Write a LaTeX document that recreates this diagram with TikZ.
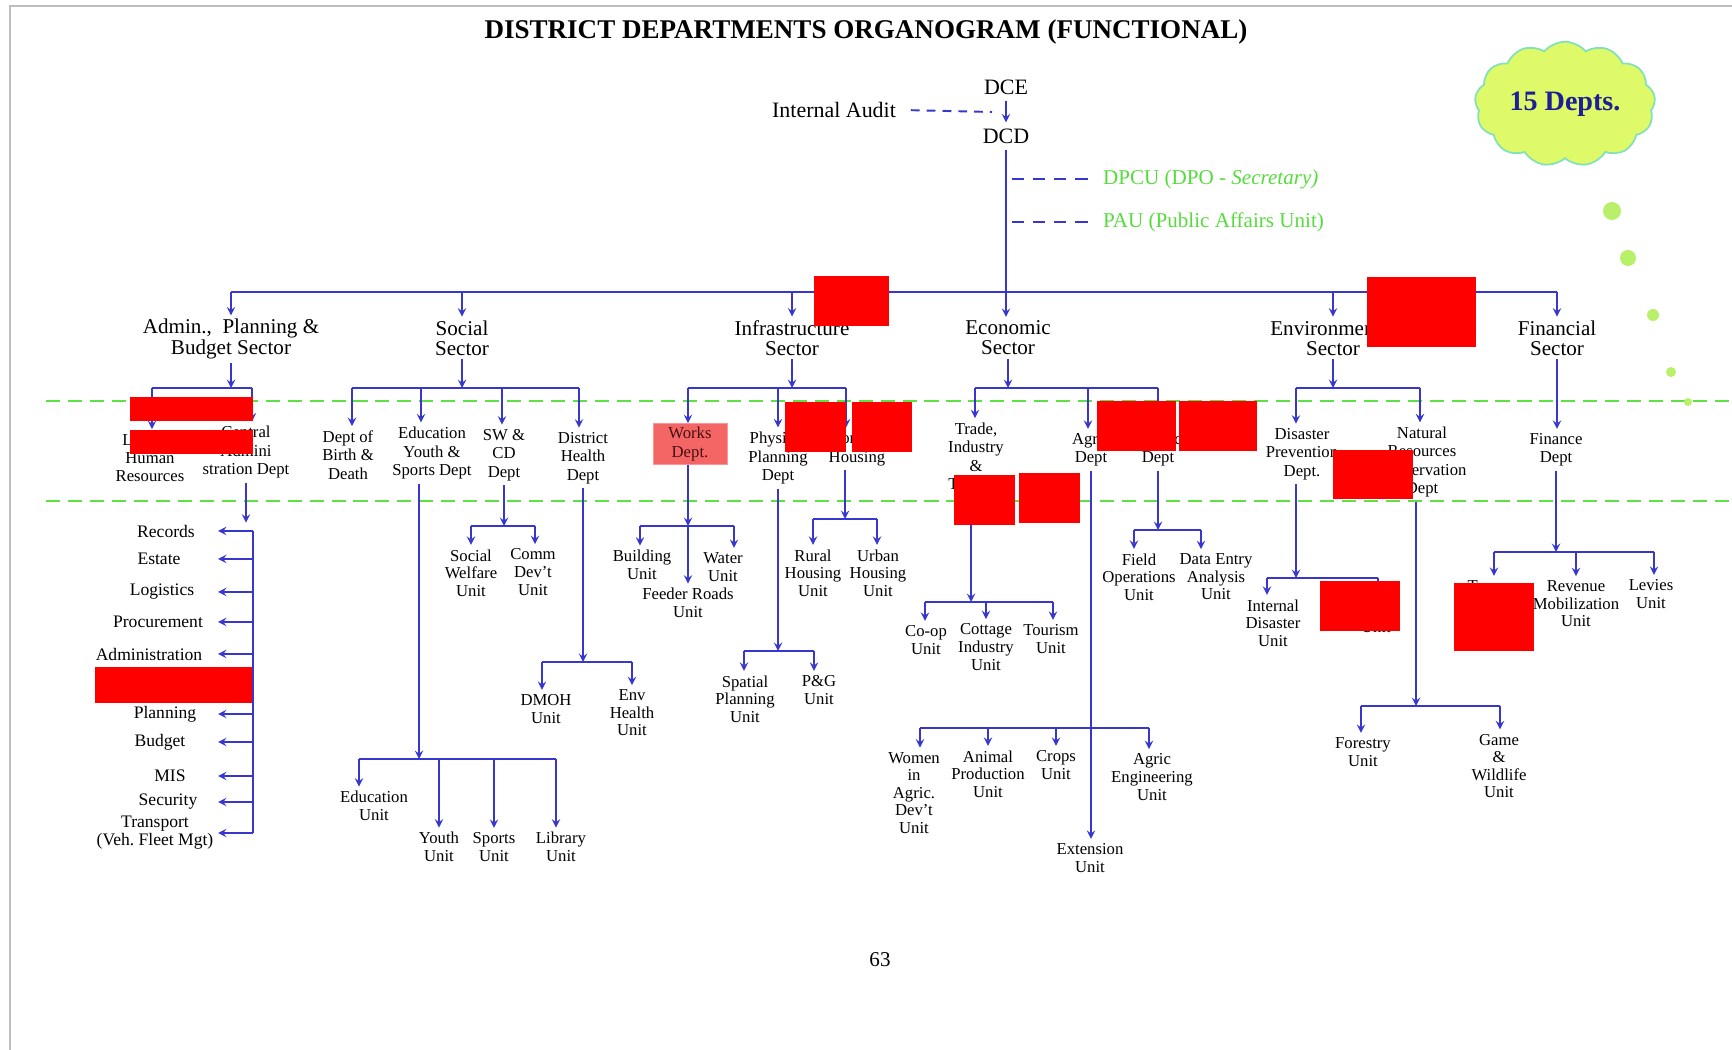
\documentclass[tikz,border=0pt]{standalone}
\usepackage{fontspec}
\setmainfont{Liberation Serif}
\usepackage{tikz}
\usetikzlibrary{shapes.symbols, arrows}
\definecolor{orgblue}{RGB}{55,55,205}
\definecolor{guidegreen}{RGB}{95,225,70}
\definecolor{notegreen}{RGB}{85,220,60}
\definecolor{worksred}{RGB}{244,102,102}
\definecolor{worksedge}{RGB}{250,150,150}
\definecolor{workstext}{RGB}{70,15,15}
\definecolor{cloudfill}{RGB}{222,250,105}
\definecolor{cloudedge}{RGB}{130,225,185}
\definecolor{cloudtext}{RGB}{30,30,150}
\definecolor{dotgreen}{RGB}{185,240,105}
\definecolor{framegray}{RGB}{190,190,190}
\tikzstyle{title} = [font=\bfseries\fontsize{15.4}{18}\selectfont]
\tikzstyle{head} = [font=\fontsize{12.5}{14}\selectfont]
\tikzstyle{note} = [font=\fontsize{12}{14}\selectfont, text=notegreen, anchor=west, inner sep=1pt]
\tikzstyle{sector} = [align=center, font=\fontsize{12}{11.5}\selectfont, inner sep=2pt]
\tikzstyle{dept} = [align=center, font=\fontsize{9.5}{10.4}\selectfont, inner sep=2.5pt]
\tikzstyle{unit} = [align=center, font=\fontsize{9.5}{10}\selectfont, inner sep=2.5pt]
\tikzstyle{item} = [align=center, font=\fontsize{10}{10.2}\selectfont, inner sep=1pt]
\tikzstyle{link} = [draw=orgblue, line width=1.1pt]
\tikzstyle{arrow} = [link, ->, >=stealth]
\tikzstyle{aux} = [draw=orgblue, line width=1.1pt, dash pattern=on 5pt off 4pt]
\tikzstyle{guide} = [draw=guidegreen, line width=1.2pt, dash pattern=on 8pt off 4.5pt]
\tikzstyle{mask} = [fill=red, draw=none]

\begin{document}
\begin{tikzpicture}[x=0.02cm, y=-0.02cm]
\useasboundingbox (0,0) rectangle (1732,1050);

% Frame
\draw[framegray, line width=1.2pt] (10,1050) -- (10,6) -- (1732,6);

% Guide lines
\coordinate (guide1-w) at (46,401);
\coordinate (guide1-e) at (1732,401);
\coordinate (guide2-w) at (46,501);
\coordinate (guide2-e) at (1732,501);
\draw[guide] (guide1-w) -- (guide1-e);
\draw[guide] (guide2-w) -- (guide2-e);

% Head
\node (title) [title] at (866,32) {DISTRICT DEPARTMENTS ORGANOGRAM (FUNCTIONAL)};
\node (dce) [head] at (1006,87) {DCE};
\node (dcd) [head] at (1006,136) {DCD};
\node (audit) [head] at (834,110) {Internal Audit};
\node (dpcu) [note] at (1101,179) {DPCU (DPO - \textit{Secretary)}};
\node (pau) [note] at (1101,222) {PAU (Public Affairs Unit)};
\coordinate (audit-jn) at (992,112);
\coordinate (dpcu-jn) at (1012,179);
\coordinate (pau-jn) at (1012,222);

% Cloud
\node (depts) [cloud, cloud puffs=13, cloud puff arc=100, aspect=1.6, minimum width=3.3cm, minimum height=2.1cm,
  fill=cloudfill, draw=cloudedge, line width=1pt, text=cloudtext,
  font=\bfseries\fontsize{16}{18}\selectfont] at (1565,104) {15 Depts.};
\fill[dotgreen] (1612,211) circle (9);
\fill[dotgreen] (1628,258) circle (8);
\fill[dotgreen] (1653,315) circle (6);
\fill[dotgreen] (1671,372) circle (5);
\fill[dotgreen] (1688,402) circle (4);

% Sectors
\node (secadmin) [sector] at (231,339) {Admin.,\enspace Planning \&\\Budget Sector};
\node (secsocial) [sector] at (462,338) {Social\\Sector};
\node (secinfra) [sector] at (792,338) {Infrastructure\\Sector};
\node (sececon) [sector] at (1008,338) {Economic\\Sector};
\node (secenv) [sector] at (1333,338) {Environmental\\Sector};
\node (secfin) [sector] at (1557,338) {Financial\\Sector};

% Departments
\node (hr) [dept] at (150,458) {Legal \&\\Human\\Resources};
\node (cad) [dept] at (246,452) {Central\\Admini\\stration Dept};
\node (birth) [dept] at (348,455) {Dept of\\Birth \&\\Death};
\node (edu) [dept] at (432,453) {Education\\Youth \&\\Sports Dept};
\node (swcd) [dept] at (504,455) {SW \&\\CD\\Dept};
\node (health) [dept] at (583,458) {District\\Health\\Dept};
\node (works) [dept, fill=worksred, draw=worksedge, text=workstext, minimum width=1.48cm,
  minimum height=0.82cm, inner sep=1pt] at (690,444) {Works\\Dept.};
\node (phys) [dept] at (778,458) {Physical\\Planning\\Dept};
\node (housing) [dept] at (857,449) {Works \&\\Housing};
\node (trade) [dept] at (976,467) {Trade,\\Industry\\\&\\Tourism\\Dept};
\node (agric) [dept] at (1091,450) {Agric\\Dept};
\node (stats) [dept] at (1158,450) {Statistics\\Dept};
\node (disaster) [dept] at (1302,454) {Disaster\\Prevention\\Dept.};
\node (natres) [dept] at (1422,462) {Natural\\Resources\\Conservation\\Dept};
\node (finance) [dept] at (1556,450) {Finance\\Dept};

% Admin list
\node (records) [item] at (166,531) {Records};
\node (estate) [item] at (159,559) {Estate};
\node (logistics) [item] at (162,592) {Logistics};
\node (procurement) [item] at (158,622) {Procurement};
\node (administration) [item] at (149,654) {Administration};
\node (planning) [item] at (165,714) {Planning};
\node (budget) [item] at (160,742) {Budget};
\node (mis) [item] at (170,776) {MIS};
\node (security) [item] at (168,802) {Security};
\node (transport) [item] at (155,833) {Transport\\(Veh.\ Fleet Mgt)};

% Units
\node (welfare) [unit] at (471,573) {Social\\Welfare\\Unit};
\node (comm) [unit] at (533,572) {Comm\\Dev't\\Unit};
\node (dmoh) [unit] at (546,709) {DMOH\\Unit};
\node (envh) [unit] at (632,713) {Env\\Health\\Unit};
\node (eduunit) [unit] at (374,806) {Education\\Unit};
\node (youth) [unit] at (439,847) {Youth\\Unit};
\node (sports) [unit] at (494,847) {Sports\\Unit};
\node (library) [unit] at (561,847) {Library\\Unit};
\node (building) [unit] at (642,565) {Building\\Unit};
\node (water) [unit] at (723,567) {Water\\Unit};
\node (feeder) [unit] at (688,603) {Feeder Roads\\Unit};
\node (spatial) [unit] at (745,699) {Spatial\\Planning\\Unit};
\node (pg) [unit] at (819,690) {P\&G\\Unit};
\node (rural) [unit] at (813,573) {Rural\\Housing\\Unit};
\node (urban) [unit] at (878,573) {Urban\\Housing\\Unit};
\node (coop) [unit] at (926,640) {Co-op\\Unit};
\node (cottage) [unit] at (986,647) {Cottage\\Industry\\Unit};
\node (tourism) [unit] at (1051,639) {Tourism\\Unit};
\node (women) [unit] at (914,793) {Women\\in\\Agric.\\Dev't\\Unit};
\node (animal) [unit] at (988,774) {Animal\\Production\\Unit};
\node (crops) [unit] at (1056,765) {Crops\\Unit};
\node (agreng) [unit] at (1152,777) {Agric\\Engineering\\Unit};
\node (extension) [unit] at (1090,858) {Extension\\Unit};
\node (field) [unit] at (1139,577) {Field\\Operations\\Unit};
\node (dataentry) [unit] at (1216,577) {Data Entry\\Analysis\\Unit};
\node (internal) [unit] at (1273,623) {Internal\\Disaster\\Unit};
\node (rescue) [unit] at (1376,618) {Rescue\\Unit};
\node (forestry) [unit] at (1363,752) {Forestry\\Unit};
\node (game) [unit] at (1499,766) {Game\\\&\\Wildlife\\Unit};
\node (treasury) [unit] at (1497,595) {Treasury\\Unit};
\node (revenue) [unit] at (1576,604) {Revenue\\Mobilization\\Unit};
\node (levies) [unit] at (1651,594) {Levies\\Unit};

\node (page) [head, font=\fontsize{12}{14}\selectfont] at (880,960) {63};

% Junctions
\coordinate (bus-w) at (231,292);
\coordinate (bus-e) at (1557,292);
\coordinate (adm-l) at (152,388);
\coordinate (adm-r) at (252,388);
\coordinate (soc-l) at (352,388);
\coordinate (soc-2) at (421,388);
\coordinate (soc-3) at (502,388);
\coordinate (soc-r) at (579,388);
\coordinate (inf-l) at (688,388);
\coordinate (inf-2) at (778,388);
\coordinate (inf-r) at (846,388);
\coordinate (eco-l) at (975,388);
\coordinate (eco-2) at (1088,388);
\coordinate (eco-r) at (1158,388);
\coordinate (env-l) at (1296,388);
\coordinate (env-r) at (1420,388);
\coordinate (brk-top) at (253,531);
\coordinate (brk-tip) at (218,531);
\coordinate (sw-l) at (471,526);
\coordinate (sw-r) at (535,526);
\coordinate (hl-l) at (542,662);
\coordinate (hl-r) at (632,662);
\coordinate (ed-l) at (359,759);
\coordinate (ed-jn) at (419,759);
\coordinate (ed-r) at (556,759);
\coordinate (wk-l) at (640,526);
\coordinate (wk-jn) at (688,526);
\coordinate (wk-r) at (734,526);
\coordinate (pp-l) at (744,651);
\coordinate (pp-r) at (814,651);
\coordinate (hs-l) at (813,519);
\coordinate (hs-jn) at (845,519);
\coordinate (hs-r) at (877,519);
\coordinate (tr-l) at (925,602);
\coordinate (tr-jn) at (971,602);
\coordinate (tr-r) at (1053,602);
\coordinate (ag-l) at (920,728);
\coordinate (ag-r) at (1149,728);
\coordinate (st-l) at (1134,530);
\coordinate (st-r) at (1201,530);
\coordinate (dp-l) at (1267,578);
\coordinate (dp-jn) at (1296,578);
\coordinate (dp-r) at (1378,578);
\coordinate (nr-l) at (1361,706);
\coordinate (nr-jn) at (1416,706);
\coordinate (nr-r) at (1500,706);
\coordinate (fn-l) at (1494,552);
\coordinate (fn-r) at (1654,552);

% Arrows: head
\draw [arrow] (dce.south) -- (dcd.north);
\draw [arrow] (dcd.south) -- (dcd.south |- sececon.north);
\draw [aux, shorten <=5pt] (audit.east) -- (audit-jn);
\draw [aux, dash pattern=on 7pt off 5pt, shorten >=6pt] (dpcu-jn) -- (dpcu.west);
\draw [aux, dash pattern=on 7pt off 5pt, shorten >=6pt] (pau-jn) -- (pau.west);

% Arrows: sectors
\draw [link] (bus-w) -- (bus-e);
\draw [arrow] (secadmin.north |- bus-w) -- (secadmin.north);
\draw [arrow] (secsocial.north |- bus-w) -- (secsocial.north);
\draw [arrow] (secinfra.north |- bus-w) -- (secinfra.north);
\draw [arrow] (secenv.north |- bus-w) -- (secenv.north);
\draw [arrow] (secfin.north |- bus-w) -- (secfin.north);

% Arrows: departments
\draw [arrow] (secadmin.south) -- (secadmin.south |- adm-l);
\draw [link] (adm-l) -- (adm-r);
\draw [arrow] (adm-l) -- (adm-l |- hr.north);
\draw [arrow] (adm-r) -- (adm-r |- cad.north);
\draw [arrow] (secsocial.south) -- (secsocial.south |- soc-l);
\draw [link] (soc-l) -- (soc-r);
\draw [arrow] (soc-l) -- (soc-l |- birth.north);
\draw [arrow] (soc-2) -- (soc-2 |- edu.north);
\draw [arrow] (soc-3) -- (soc-3 |- swcd.north);
\draw [arrow] (soc-r) -- (soc-r |- health.north);
\draw [arrow] (secinfra.south) -- (secinfra.south |- inf-l);
\draw [link] (inf-l) -- (inf-r);
\draw [arrow] (inf-l) -- (inf-l |- works.north);
\draw [arrow] (inf-2) -- (inf-2 |- phys.north);
\draw [arrow] (inf-r) -- (inf-r |- housing.north);
\draw [arrow] (sececon.south) -- (sececon.south |- eco-l);
\draw [link] (eco-l) -- (eco-r);
\draw [arrow] (eco-l) -- (eco-l |- trade.north);
\draw [arrow] (eco-2) -- (eco-2 |- agric.north);
\draw [arrow] (eco-r) -- (eco-r |- stats.north);
\draw [arrow] (secenv.south) -- (secenv.south |- env-l);
\draw [link] (env-l) -- (env-r);
\draw [arrow] (env-l) -- (env-l |- disaster.north);
\draw [arrow] (env-r) -- (env-r |- natres.north);
\draw [arrow] (secfin.south) -- (secfin.south |- finance.north);

% Arrows: admin list
\draw [arrow] (cad.south) -- (cad.south |- records.north);
\draw [link] (brk-top) -- (brk-top |- transport);
\draw [arrow] (brk-top |- records) -- (brk-tip |- records);
\draw [arrow] (brk-top |- estate) -- (brk-tip |- estate);
\draw [arrow] (brk-top |- logistics) -- (brk-tip |- logistics);
\draw [arrow] (brk-top |- procurement) -- (brk-tip |- procurement);
\draw [arrow] (brk-top |- administration) -- (brk-tip |- administration);
\draw [arrow] (brk-top |- planning) -- (brk-tip |- planning);
\draw [arrow] (brk-top |- budget) -- (brk-tip |- budget);
\draw [arrow] (brk-top |- mis) -- (brk-tip |- mis);
\draw [arrow] (brk-top |- security) -- (brk-tip |- security);
\draw [arrow] (brk-top |- transport) -- (brk-tip |- transport);

% Arrows: social units
\draw [arrow] (swcd.south) -- (swcd.south |- sw-l);
\draw [link] (sw-l) -- (sw-r);
\draw [arrow] (sw-l) -- (sw-l |- welfare.north);
\draw [arrow] (sw-r) -- (sw-r |- comm.north);
\draw [arrow] (health.south) -- (health.south |- hl-l);
\draw [link] (hl-l) -- (hl-r);
\draw [arrow] (hl-l) -- (hl-l |- dmoh.north);
\draw [arrow] (hl-r) -- (hl-r |- envh.north);
\draw [arrow] (edu.south -| ed-jn) -- (ed-jn);
\draw [link] (ed-l) -- (ed-r);
\draw [arrow] (ed-l) -- (ed-l |- eduunit.north);
\draw [arrow] (youth.north |- ed-l) -- (youth.north);
\draw [arrow] (sports.north |- ed-l) -- (sports.north);
\draw [arrow] (ed-r) -- (ed-r |- library.north);

% Arrows: infrastructure units
\draw [arrow] (works.south -| wk-jn) -- (wk-jn);
\draw [arrow] (wk-jn) -- (wk-jn |- feeder.north);
\draw [link] (wk-l) -- (wk-r);
\draw [arrow] (wk-l) -- (wk-l |- building.north);
\draw [arrow] (wk-r) -- (wk-r |- water.north);
\draw [arrow] (phys.south) -- (phys.south |- pp-l);
\draw [link] (pp-l) -- (pp-r);
\draw [arrow] (pp-l) -- (pp-l |- spatial.north);
\draw [arrow] (pp-r) -- (pp-r |- pg.north);
\draw [arrow] (housing.south -| hs-jn) -- (hs-jn);
\draw [link] (hs-l) -- (hs-r);
\draw [arrow] (hs-l) -- (hs-l |- rural.north);
\draw [arrow] (hs-r) -- (hs-r |- urban.north);

% Arrows: economic units
\draw [arrow] (trade.south -| tr-jn) -- (tr-jn);
\draw [link] (tr-l) -- (tr-r);
\draw [arrow] (tr-l) -- (tr-l |- coop.north);
\draw [arrow] (cottage.north |- tr-l) -- (cottage.north);
\draw [arrow] (tr-r) -- (tr-r |- tourism.north);
\draw [arrow] (agric.south) -- (agric.south |- extension.north);
\draw [link] (ag-l) -- (ag-r);
\draw [arrow] (ag-l) -- (ag-l |- women.north);
\draw [arrow] (animal.north |- ag-l) -- (animal.north);
\draw [arrow] (crops.north |- ag-l) -- (crops.north);
\draw [arrow] (ag-r) -- (ag-r |- agreng.north);
\draw [arrow] (stats.south) -- (stats.south |- st-l);
\draw [link] (st-l) -- (st-r);
\draw [arrow] (st-l) -- (st-l |- field.north);
\draw [arrow] (st-r) -- (st-r |- dataentry.north);

% Arrows: environment units
\draw [arrow] (disaster.south -| dp-jn) -- (dp-jn);
\draw [link] (dp-l) -- (dp-r);
\draw [arrow] (dp-l) -- (dp-l |- internal.north);
\draw [arrow] (dp-r) -- (dp-r |- rescue.north);
\draw [arrow] (natres.south -| nr-jn) -- (nr-jn);
\draw [link] (nr-l) -- (nr-r);
\draw [arrow] (nr-l) -- (nr-l |- forestry.north);
\draw [arrow] (nr-r) -- (nr-r |- game.north);

% Arrows: financial units
\draw [arrow] (finance.south) -- (finance.south |- fn-l);
\draw [link] (fn-l) -- (fn-r);
\draw [arrow] (fn-l) -- (fn-l |- treasury.north);
\draw [arrow] (revenue.north |- fn-l) -- (revenue.north);
\draw [arrow] (fn-r) -- (fn-r |- levies.north);

% Masks
\fill [mask] (814,276) rectangle (889,326);
\fill [mask] (1367,277) rectangle (1476,347);
\fill [mask] (130,397) rectangle (253,421);
\fill [mask] (130,430) rectangle (253,454);
\fill [mask] (785,402) rectangle (846,452);
\fill [mask] (852,402) rectangle (912,452);
\fill [mask] (954,475) rectangle (1015,525);
\fill [mask] (1019,473) rectangle (1080,523);
\fill [mask] (1097,401) rectangle (1176,451);
\fill [mask] (1179,401) rectangle (1257,451);
\fill [mask] (1333,450) rectangle (1413,499);
\fill [mask] (95,667) rectangle (252,703);
\fill [mask] (1320,581) rectangle (1400,631);
\fill [mask] (1454,583) rectangle (1534,651);

\end{tikzpicture}
\end{document}
